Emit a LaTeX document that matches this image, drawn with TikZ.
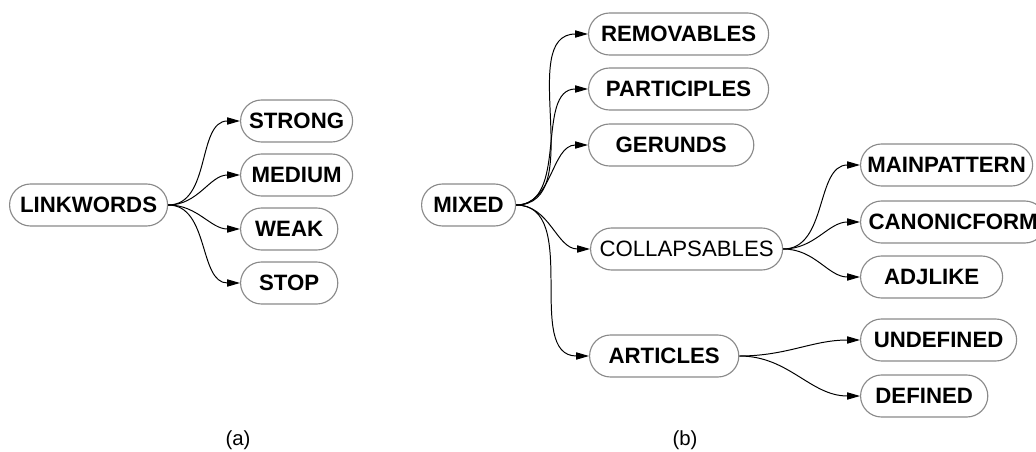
\documentclass[tikz,border=0pt]{standalone}
\usepackage{fontspec}
\setmainfont{Liberation Sans}
\usetikzlibrary{arrows.meta,shapes.misc}
\definecolor{rim}{HTML}{8A8A8A}

\begin{document}
\begin{tikzpicture}[x=0.025cm,y=-0.025cm,
    term/.style={rounded rectangle,draw=rim,line width=0.8pt,fill=white,
      minimum height=1.05cm,inner sep=0pt,anchor=west,
      font=\fontsize{15.8}{18}\selectfont\bfseries},
    plain/.style={term,font=\fontsize{15.8}{18}\selectfont},
    link/.style={-{Triangle[length=3.2mm,width=1.8mm]},line width=0.7pt,
      out=0,in=180}]
  \useasboundingbox (0,0) rectangle (1036,452);

  % Panel (a)
  \node[term,minimum width=3.95cm] (linkwords) at (9,205) {LINKWORDS};
  \node[term,minimum width=2.8cm] (strong) at (240,121) {STRONG};
  \node[term,minimum width=2.8cm] (medium) at (240,175) {MEDIUM};
  \node[term,minimum width=2.43cm] (weak) at (240,229) {WEAK};
  \node[term,minimum width=2.43cm] (stop) at (240,283) {STOP};

  \draw[link] (linkwords.east) to (strong.west);
  \draw[link] (linkwords.east) to (medium.west);
  \draw[link] (linkwords.east) to (weak.west);
  \draw[link] (linkwords.east) to (stop.west);

  \node[font=\fontsize{14.5}{16}\selectfont] (capa) at (238,440) {(a)};

  % Panel (b)
  \node[term,minimum width=2.35cm] (mixed) at (421,205) {MIXED};
  \node[term,minimum width=4.5cm] (removables) at (588,34) {REMOVABLES};
  \node[term,minimum width=4.5cm] (participles) at (588,89) {PARTICIPLES};
  \node[term,minimum width=4.13cm] (gerunds) at (588,145) {GERUNDS};
  \node[plain,minimum width=4.8cm] (collapsables) at (590,249) {COLLAPSABLES};
  \node[term,minimum width=3.73cm] (articles) at (589,356) {ARTICLES};

  \node[term,minimum width=4.3cm] (mainpattern) at (860,165) {MAINPATTERN};
  \node[term,minimum width=4.63cm] (canonicform) at (860,222) {CANONICFORM};
  \node[term,minimum width=3.55cm] (adjlike) at (860,277) {ADJLIKE};
  \node[term,minimum width=3.9cm] (undefined) at (860,340) {UNDEFINED};
  \node[term,minimum width=3.18cm] (defined) at (860,396) {DEFINED};

  \draw[link] (mixed.east) to (removables.west);
  \draw[link] (mixed.east) to (participles.west);
  \draw[link] (mixed.east) to (gerunds.west);
  \draw[link] (mixed.east) to (collapsables.west);
  \draw[link] (mixed.east) to (articles.west);

  \draw[link] (collapsables.east) to (mainpattern.west);
  \draw[link] (collapsables.east) to (canonicform.west);
  \draw[link] (collapsables.east) to (adjlike.west);
  \draw[link] (articles.east) to (undefined.west);
  \draw[link] (articles.east) to (defined.west);

  \node[font=\fontsize{14.5}{16}\selectfont] (capb) at (685,440) {(b)};
\end{tikzpicture}
\end{document}
